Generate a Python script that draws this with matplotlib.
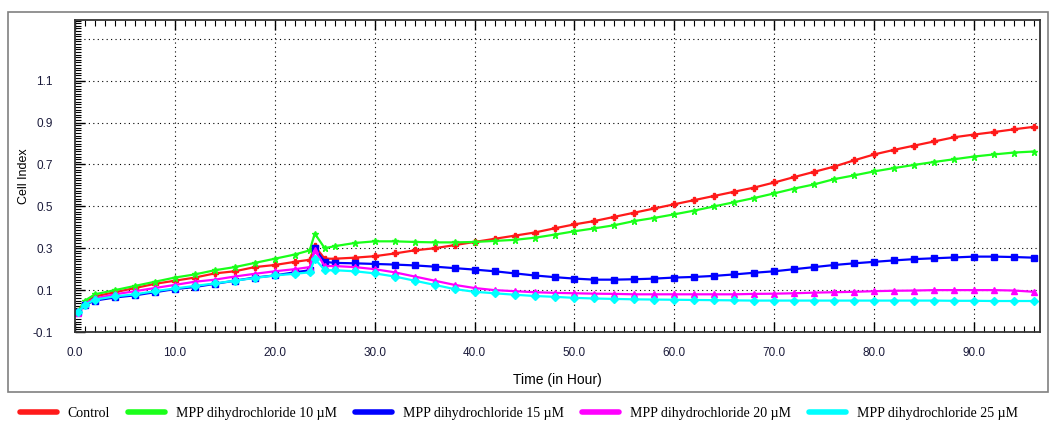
import numpy as np
import matplotlib.pyplot as plt
from matplotlib.patches import Rectangle
from matplotlib.ticker import MultipleLocator, FixedLocator

plt.rcParams['axes.unicode_minus'] = False

# time points (hours)
t = [0.3, 1, 2, 4, 6, 8, 10, 12, 14, 16, 18, 20, 22, 23.5, 24, 25,
     26, 28, 30, 32, 34, 36, 38, 40, 42, 44, 46, 48, 50, 52, 54, 56, 58, 60,
     62, 64, 66, 68, 70, 72, 74, 76, 78, 80, 82, 84, 86, 88, 90, 92, 94, 96]

control = [0.0, 0.04, 0.07, 0.09, 0.11, 0.13, 0.145, 0.16, 0.18, 0.19, 0.21, 0.22, 0.235, 0.245, 0.31, 0.25,
           0.25, 0.255, 0.262, 0.275, 0.29, 0.30, 0.315, 0.33, 0.345, 0.36, 0.375, 0.395, 0.414, 0.43, 0.45, 0.47, 0.49, 0.51,
           0.53, 0.55, 0.57, 0.59, 0.614, 0.64, 0.665, 0.69, 0.72, 0.748, 0.77, 0.79, 0.81, 0.83, 0.843, 0.855, 0.868, 0.88]
mpp10 = [0.0, 0.05, 0.08, 0.10, 0.12, 0.14, 0.16, 0.175, 0.195, 0.21, 0.23, 0.25, 0.27, 0.29, 0.37, 0.30,
         0.31, 0.325, 0.333, 0.333, 0.33, 0.328, 0.328, 0.33, 0.335, 0.34, 0.35, 0.365, 0.381, 0.395, 0.41, 0.43, 0.445, 0.462,
         0.48, 0.50, 0.52, 0.54, 0.562, 0.585, 0.605, 0.63, 0.648, 0.667, 0.683, 0.698, 0.712, 0.725, 0.738, 0.748, 0.757, 0.762]
mpp15 = [-0.005, 0.03, 0.05, 0.065, 0.075, 0.09, 0.105, 0.115, 0.13, 0.145, 0.16, 0.17, 0.185, 0.195, 0.30, 0.235,
         0.23, 0.228, 0.225, 0.222, 0.218, 0.212, 0.205, 0.198, 0.19, 0.18, 0.17, 0.162, 0.155, 0.15, 0.15, 0.152, 0.155, 0.16,
         0.163, 0.168, 0.175, 0.183, 0.19, 0.20, 0.21, 0.22, 0.228, 0.235, 0.242, 0.248, 0.252, 0.256, 0.26, 0.26, 0.258, 0.255]
mpp20 = [-0.01, 0.035, 0.06, 0.08, 0.095, 0.11, 0.125, 0.14, 0.15, 0.165, 0.178, 0.19, 0.20, 0.21, 0.29, 0.215,
         0.215, 0.21, 0.20, 0.185, 0.165, 0.145, 0.125, 0.11, 0.10, 0.095, 0.09, 0.087, 0.085, 0.083, 0.082, 0.08, 0.08, 0.08,
         0.08, 0.08, 0.08, 0.082, 0.083, 0.085, 0.088, 0.09, 0.092, 0.095, 0.097, 0.098, 0.10, 0.10, 0.10, 0.10, 0.098, 0.092]
mpp25 = [-0.005, 0.03, 0.055, 0.07, 0.08, 0.095, 0.108, 0.12, 0.132, 0.145, 0.158, 0.17, 0.178, 0.185, 0.25, 0.195,
         0.195, 0.19, 0.18, 0.165, 0.145, 0.125, 0.105, 0.092, 0.085, 0.078, 0.072, 0.068, 0.063, 0.06, 0.058, 0.056, 0.055, 0.054,
         0.053, 0.052, 0.051, 0.05, 0.05, 0.05, 0.05, 0.05, 0.05, 0.05, 0.05, 0.05, 0.05, 0.049, 0.049, 0.048, 0.048, 0.048]

labels = ['Control', 'MPP dihydrochloride 10 µM', 'MPP dihydrochloride 15 µM',
          'MPP dihydrochloride 20 µM', 'MPP dihydrochloride 25 µM']
colors = ['#ff1a1a', '#1aff1a', '#0000ff', '#ff00ff', '#00ffff']
markers = ['P', '*', 's', '^', 'D']
series = [control, mpp10, mpp15, mpp20, mpp25]

fig = plt.figure(figsize=(10.51, 4.23), dpi=100)
fig.patches.append(Rectangle((8 / 1051, 31 / 423), 1040 / 1051, 380 / 423,
                             transform=fig.transFigure, fill=False,
                             edgecolor='#808080', linewidth=1.2))

ax = fig.add_axes([75 / 1051, 91 / 423, 965 / 1051, 312 / 423])
handles = []
for y, c, m, lab in zip(series, colors, markers, labels):
    ax.plot(t, y, color=c, marker=m, markersize=4.5, linewidth=1.6)
    h, = ax.plot([], [], color=c, linewidth=4, solid_capstyle='round')
    handles.append(h)

ax.set_xlim(0, 96.6)
ax.set_ylim(-0.1, 1.39)
ax.xaxis.set_major_locator(MultipleLocator(10))
ax.xaxis.set_minor_locator(MultipleLocator(1))
ax.yaxis.set_major_locator(FixedLocator([-0.1, 0.1, 0.3, 0.5, 0.7, 0.9, 1.1]))
ax.yaxis.set_minor_locator(MultipleLocator(0.0125))
ax.set_xticklabels([f'{v:.1f}' for v in ax.get_xticks()])
ax.tick_params(which='both', direction='in', top=True, right=False,
               labelsize=8.5, labelcolor='#1a1a3a')
ax.tick_params(axis='x', pad=11)
ax.tick_params(axis='y', pad=16)
ax.tick_params(which='major', length=7, width=1)
ax.tick_params(which='minor', length=4, width=0.8)
for v in [10, 20, 30, 40, 50, 60, 70, 80, 90]:
    ax.axvline(v, color='black', linestyle=(0, (1, 3)), linewidth=0.8, zorder=0)
for v in [0.1, 0.3, 0.5, 0.7, 0.9, 1.1, 1.3]:
    ax.axhline(v, color='black', linestyle=(0, (1, 3)), linewidth=0.8, zorder=0)
for s in ax.spines.values():
    s.set_linewidth(1.3)
    s.set_color('#333333')

ax.set_xlabel('Time (in Hour)', fontsize=10, family='Liberation Sans', labelpad=10)
ax.set_ylabel('Cell Index', fontsize=9, family='Liberation Sans', labelpad=2)
for lbl in ax.get_xticklabels() + ax.get_yticklabels():
    lbl.set_family('Liberation Sans')

fig.legend(handles, labels, loc='center left', bbox_to_anchor=(0.012, 10 / 423),
           ncol=5, frameon=False, handlelength=2.7, handletextpad=0.75,
           columnspacing=1.3, borderpad=0,
           prop={'family': 'Liberation Serif', 'size': 10})

fig.savefig('out.png', dpi=100)
